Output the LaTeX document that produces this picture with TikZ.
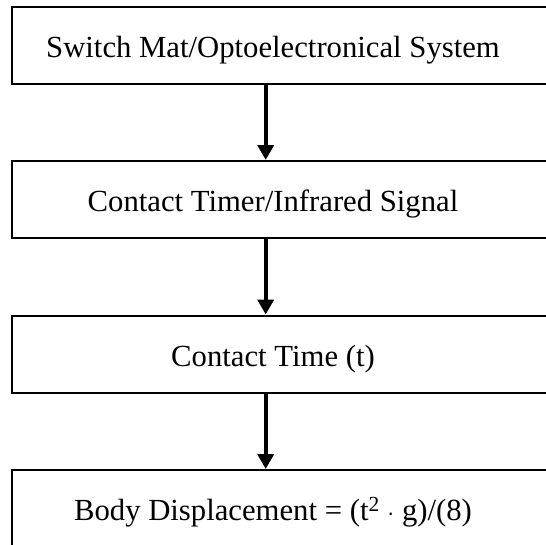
\documentclass[tikz,border=0pt]{standalone}
\usepackage{fontspec}
\setmainfont{Liberation Serif}
\usetikzlibrary{arrows.meta}
\begin{document}
\begin{tikzpicture}[x=1pt,y=-1pt,
  box/.style={draw=black, line width=2pt, minimum width=540pt, minimum height=77pt,
    inner sep=0pt, text height=28pt, text depth=4pt,
    font=\fontsize{30.7}{34}\selectfont, anchor=center},
  flow/.style={line width=4pt, -{Triangle[width=16pt,length=15pt]}}]
\clip (0,0) rectangle (546,544);
\fill[white] (0,0) rectangle (546,544);
\node[box] (b1) at (281.5,45) {Switch Mat/Optoelectronical System\kern17pt};
\node[box] (b2) at (281.5,199.5) {Contact Timer/Infrared Signal\kern17pt};
\node[box] (b3) at (281.5,354) {Contact Time (t)\kern17pt};
\node[box] (b4) at (281.5,508.5) {Body Displacement = (t\textsuperscript{2} $\cdot$ g)/(8)\kern17pt};
\draw[flow] ([xshift=-15.8pt]b1.south) -- ([xshift=-15.8pt]b2.north);
\draw[flow] ([xshift=-15.8pt]b2.south) -- ([xshift=-15.8pt]b3.north);
\draw[flow] ([xshift=-15.8pt]b3.south) -- ([xshift=-15.8pt]b4.north);
\end{tikzpicture}
\end{document}
